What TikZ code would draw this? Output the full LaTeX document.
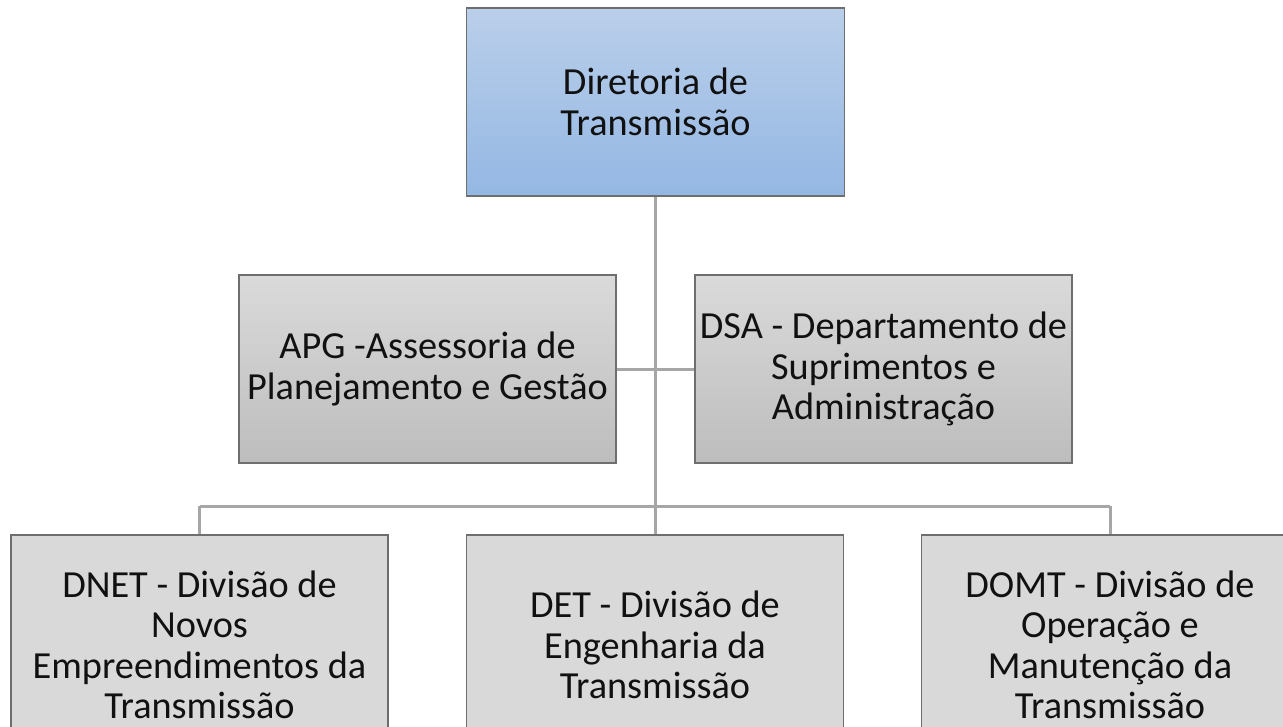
\documentclass[tikz,border=0pt]{standalone}
\usepackage{fontspec}
\setmainfont{Carlito}
\usetikzlibrary{shadings}
\definecolor{bluetop}{HTML}{BACFEA}
\definecolor{bluebot}{HTML}{94B7E3}
\definecolor{graytop}{HTML}{DADADA}
\definecolor{graybot}{HTML}{BDBDBD}
\definecolor{flatgray}{HTML}{D9D9D9}
\definecolor{boxline}{HTML}{6E6E6E}
\definecolor{conn}{HTML}{A6A6A6}
\definecolor{txt}{HTML}{111111}
\tikzset{
  base/.style={draw=boxline, line width=1.5pt, rectangle, align=center, text=txt,
    inner sep=0pt, font=\fontsize{38.3}{40.5}\selectfont},
  topbox/.style={base, top color=bluetop, bottom color=bluebot, minimum width=378pt, minimum height=188pt},
  midbox/.style={base, top color=graytop, bottom color=graybot, minimum width=377pt, minimum height=188pt},
  lowbox/.style={base, fill=flatgray, minimum width=377pt, minimum height=220pt},
  link/.style={draw=conn, line width=3pt}
}
\begin{document}
\begin{tikzpicture}[x=1pt,y=-1pt]
\clip (0,0) rectangle (1283,726);
\fill[white] (0,0) rectangle (1283,726);
\coordinate (bus) at (655,506);
\coordinate (mid) at (655,369);
% connectors
\draw[link] (655,196) -- (bus);
\draw[link] (615,369) -- (695,369);
\draw[link] (199.5,506) -- (1110,506);
\draw[link] (199.5,506) -- (199.5,535);
\draw[link] (655,506) -- (655,535);
\draw[link] (1110,506) -- (1110,535);
% nodes
\node[topbox] (dir) at (655.5,102) {Diretoria de\\Transmissão};
\node[midbox] (apg) at (427.5,369) {APG -Assessoria de\\Planejamento e Gestão};
\node[midbox] (dsa) at (883.5,369) {DSA - Departamento de\\Suprimentos e\\Administração};
\node[lowbox] (dnet) at (199.5,645) {DNET - Divisão de\\Novos\\Empreendimentos da\\Transmissão};
\node[lowbox] (det) at (655,645) {DET - Divisão de\\Engenharia da\\Transmissão};
\node[lowbox] (domt) at (1110,645) {DOMT - Divisão de\\Operação e\\Manutenção da\\Transmissão};
\end{tikzpicture}
\end{document}
